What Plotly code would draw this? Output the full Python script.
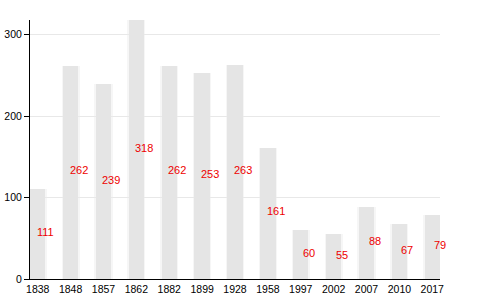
import plotly.graph_objects as go

years = ["1838", "1848", "1857", "1862", "1882", "1899", "1928", "1958", "1997", "2002", "2007", "2010", "2017"]
population = [111, 262, 239, 318, 262, 253, 263, 161, 60, 55, 88, 67, 79]
y_ticks = [0, 100, 200, 300]

bar_w = 0.47

fig = go.Figure()
# faint halo behind bars
fig.add_trace(go.Bar(x=years, y=population, width=bar_w + 0.08,
                     marker=dict(color="rgba(235,235,235,0.45)", line=dict(width=0)),
                     hoverinfo="skip", showlegend=False))
fig.add_trace(go.Bar(x=years, y=population, width=bar_w,
                     marker=dict(color="#e5e5e5", line=dict(width=0)),
                     showlegend=False))

for i, v in enumerate(population):
    fig.add_annotation(x=i, y=v / 2, xref="x", yref="y", text=str(v), showarrow=False,
                       xshift=8, yshift=2,
                       font=dict(color="#ee0000", size=11, family="Liberation Sans, Arial"))

fig.update_layout(
    width=480, height=300,
    margin=dict(l=30, r=40, t=20, b=21),
    plot_bgcolor="white", paper_bgcolor="white",
    barmode="overlay", bargap=0,
    font=dict(family="Liberation Sans, Arial", size=11, color="black"),
)
fig.update_xaxes(type="category", range=[-bar_w / 2, 12 + bar_w / 2], automargin=False,
                 showline=True, linecolor="black", linewidth=1,
                 showgrid=False, ticks="", tickfont=dict(size=10.5))
fig.update_yaxes(range=[0, 318], tickvals=y_ticks, automargin=False,
                 showline=True, linecolor="black", linewidth=1,
                 showgrid=True, gridcolor="#e8e8e8", zeroline=False,
                 ticks="outside", ticklen=5, tickcolor="black", tickfont=dict(size=10.5))

fig.write_html("out.html")
